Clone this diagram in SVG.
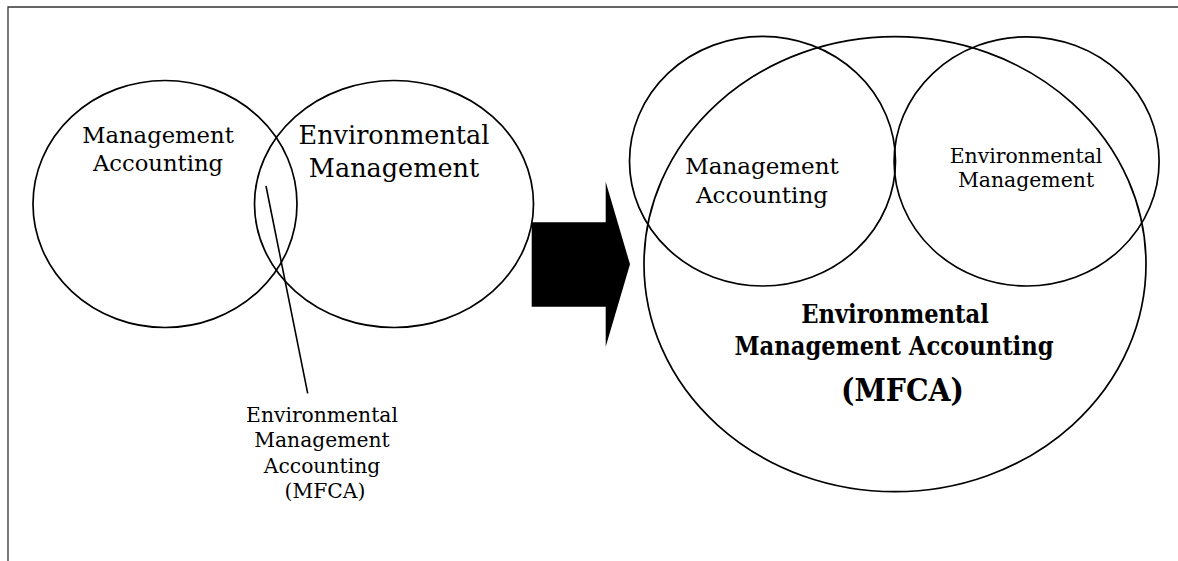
<svg xmlns="http://www.w3.org/2000/svg" width="1178" height="561" viewBox="0 0 1178 561">
<style>
.c{fill:none;stroke:#000;stroke-width:1.7}
.t{font-family:"DejaVu Serif","Liberation Serif",serif;fill:#000;text-anchor:middle}
.b{font-family:"DejaVu Serif Condensed","DejaVu Serif","Liberation Serif",serif;font-weight:bold;fill:#000;text-anchor:middle}
</style>
<rect width="1178" height="561" fill="#fff"/>
<g id="frame" fill="none" stroke="#333" stroke-width="1.3">
<path d="M8,561 V7 H1178"/>
</g>
<g id="left-ma">
<ellipse class="c" cx="165" cy="204" rx="132" ry="123.5"/>
<text class="t" font-size="22.7"><tspan x="158" y="142.7">Management</tspan><tspan x="158" y="170.7">Accounting</tspan></text>
</g>
<g id="left-em">
<ellipse class="c" cx="394" cy="204" rx="139.5" ry="123.5"/>
<text class="t" font-size="25.5"><tspan x="394" y="144">Environmental</tspan><tspan x="394" y="176.7">Management</tspan></text>
</g>
<g id="left-ema">
<text class="t" font-size="20.3"><tspan x="322" y="421.7">Environmental</tspan><tspan x="322" y="446.7">Management</tspan><tspan x="322" y="473.3">Accounting</tspan><tspan x="325" y="498.3">(MFCA)</tspan></text>
</g>
<g id="connectors">
<line x1="266" y1="186" x2="307.7" y2="393.3" stroke="#000" stroke-width="1.6"/>
</g>
<g id="arrow">
<polygon points="531.7,222.3 605.7,222.3 605.7,181.7 630,264.3 605.7,346.7 605.7,306.7 531.7,306.7" fill="#000"/>
</g>
<g id="right-ema">
<ellipse class="c" cx="895" cy="264.2" rx="251" ry="227.5"/>
<text class="b" font-size="25.2"><tspan x="895" y="323.3">Environmental</tspan><tspan x="894" y="355">Management Accounting</tspan></text>
<text class="b" font-size="31.5" x="902.5" y="400.7">(MFCA)</text>
</g>
<g id="right-ma">
<ellipse class="c" cx="762.5" cy="161.2" rx="133" ry="124.8"/>
<text class="t" font-size="23"><tspan x="762" y="174">Management</tspan><tspan x="762" y="202.7">Accounting</tspan></text>
</g>
<g id="right-em">
<ellipse class="c" cx="1026.6" cy="161.4" rx="132.5" ry="124.6"/>
<text class="t" font-size="20.4"><tspan x="1026" y="163.3">Environmental</tspan><tspan x="1026" y="187.3">Management</tspan></text>
</g>
</svg>
